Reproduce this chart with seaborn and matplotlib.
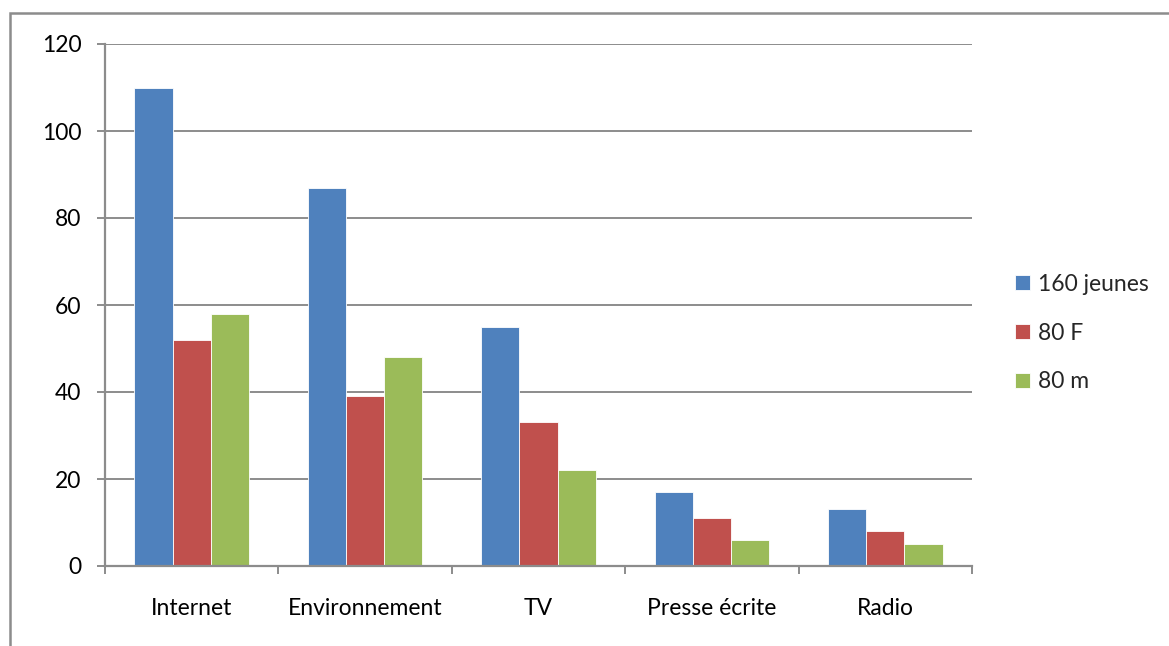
import matplotlib
matplotlib.use("Agg")
import matplotlib.pyplot as plt
import seaborn as sns
import pandas as pd
import numpy as np
from matplotlib.patches import Rectangle
from matplotlib.ticker import FixedLocator

categories = ["Internet", "Environnement", "TV", "Presse écrite", "Radio"]
series_names = ["160 jeunes", "80 F", "80 m"]
jeunes_160 = [110, 87, 55, 17, 13]
f_80 = [52, 39, 33, 11, 8]
m_80 = [58, 48, 22, 6, 5]
y_ticks = [0, 20, 40, 60, 80, 100, 120]
colors = ["#4F81BD", "#C0504D", "#9BBB59"]

rows = []
for name, vals in zip(series_names, [jeunes_160, f_80, m_80]):
    for c, v in zip(categories, vals):
        rows.append({"cat": c, "series": name, "value": v})
df = pd.DataFrame(rows)

sns.set_style("white")
plt.rcParams["font.family"] = ["Lato", "DejaVu Sans"]

FS = 16.5

fig = plt.figure(figsize=(11.69, 6.46), dpi=100)
ax = fig.add_axes([105/1169, 1 - 566/646, (972-105)/1169, (566-44)/646])

sns.barplot(data=df, x="cat", y="value", hue="series", order=categories,
            hue_order=series_names, palette=colors, saturation=1,
            width=0.66, ax=ax, edgecolor="white", linewidth=0.6, legend=True)

ax.set_xlim(-0.5, len(categories) - 0.5)
ax.set_ylim(0, 120)
ax.set_yticks(y_ticks)
ax.set_xlabel("")
ax.set_ylabel("")

grid_col = "#8C8C8C"
ax.yaxis.grid(True, color=grid_col, linewidth=1.4)
ax.set_axisbelow(True)
for s in ["top", "right"]:
    ax.spines[s].set_visible(False)
for s in ["left", "bottom"]:
    ax.spines[s].set_color(grid_col)
    ax.spines[s].set_linewidth(1.6)

ax.tick_params(axis="y", direction="out", length=6, width=1.4, color=grid_col,
               labelsize=FS, pad=11, left=True)
ax.tick_params(axis="x", which="major", length=0, labelsize=FS, pad=23)
ax.xaxis.set_minor_locator(FixedLocator(np.arange(-0.5, len(categories), 1.0)))
ax.tick_params(axis="x", which="minor", direction="out", length=6, width=1.4,
               color=grid_col, bottom=True)
for lbl in ax.get_xticklabels() + ax.get_yticklabels():
    lbl.set_color("black")

h, l = ax.get_legend_handles_labels()
ax.get_legend().remove()
fig.legend(h, l, loc="center left", bbox_to_anchor=(1004/1169, 1 - 333/646),
           frameon=False, fontsize=FS, handlelength=0.62, handleheight=0.62,
           handletextpad=0.35, labelspacing=1.22, borderpad=0)

fig.patches.append(Rectangle((10/1169, -0.1), 1.2, 1 - 13/646 + 0.1,
                             transform=fig.transFigure, fill=False,
                             edgecolor="#8C8C8C", linewidth=1.8))

fig.savefig("out.png", dpi=100, facecolor="white")
